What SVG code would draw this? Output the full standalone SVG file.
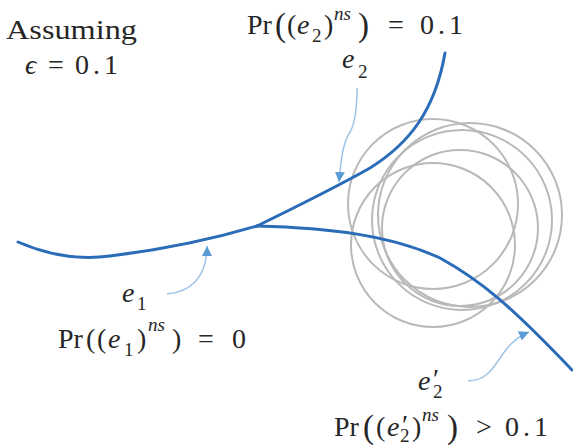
<svg xmlns="http://www.w3.org/2000/svg" width="573" height="445" viewBox="0 0 573 445">
<defs>
<style>
.t{font-family:"Liberation Serif","DejaVu Serif",serif;font-size:28px;fill:#262626}
.i{font-style:italic}
.s{font-size:19px}
.b{font-size:33px}
.d{letter-spacing:4px}
.curve{fill:none;stroke:#2a6cb8;stroke-width:3;stroke-linecap:round}
.circ{fill:none;stroke:#b9b9b9;stroke-width:2}
.ptr{fill:none;stroke:#9fc4e8;stroke-width:1.5}
</style>
<marker id="ah" markerUnits="userSpaceOnUse" markerWidth="12" markerHeight="12" refX="10" refY="5" orient="auto">
<path d="M0,0 L10,5 L0,10 Z" fill="#5b9bd5"/>
</marker>
</defs>
<rect width="573" height="445" fill="#ffffff"/>
<g id="circles">
<circle class="circ" cx="433" cy="204" r="85"/>
<circle class="circ" cx="462" cy="220" r="90"/>
<circle class="circ" cx="470" cy="215" r="92"/>
<circle class="circ" cx="460" cy="228" r="78"/>
<circle class="circ" cx="433" cy="245" r="82"/>
</g>
<g id="connectors">
<path id="edge-e1" class="curve" d="M18,242 C50,256 80,260 110,256 C160,250 210,240 257,226"/>
<path id="edge-e2" class="curve" d="M257,226 C300,205 340,185 370,168 C410,143 435,110 445,53"/>
<path id="edge-e2p" class="curve" d="M257,226 C330,228 390,235 440,258 C480,280 510,305 572,370"/>
<path id="ptr-e2" class="ptr" marker-end="url(#ah)" d="M357,88 C357,105 356,122 350,132 C343,142 341,160 339,182"/>
<path id="ptr-e1" class="ptr" marker-end="url(#ah)" d="M167,294 C190,292 207,278 207,246"/>
<path id="ptr-e2p" class="ptr" marker-end="url(#ah)" d="M468,381 C500,380 495,346 529,332"/>
</g>
<g id="assumption">
<text class="t" x="6" y="39" textLength="131" lengthAdjust="spacingAndGlyphs">Assuming</text>
<text class="t" y="74"><tspan class="i" x="25">ϵ</tspan><tspan x="48">=</tspan><tspan class="d" x="75">0.1</tspan></text>
</g>
<g id="label-e2">
<text class="t" y="34"><tspan x="247">Pr</tspan><tspan class="b" x="275" dy="2">(</tspan><tspan x="287" dy="-2">(</tspan><tspan class="i" x="297">e</tspan><tspan class="s" x="312" dy="8">2</tspan><tspan x="324" dy="-8">)</tspan><tspan class="s i" x="334" dy="-14">ns</tspan><tspan class="b" x="358" dy="16">)</tspan><tspan x="388" dy="-2">=</tspan><tspan class="d" x="420">0.1</tspan></text>
<text class="t" y="68"><tspan class="i" x="342">e</tspan><tspan class="s" x="358" dy="10">2</tspan></text>
</g>
<g id="label-e1">
<text class="t" y="348"><tspan x="58">Pr</tspan><tspan x="86">(</tspan><tspan x="97">(</tspan><tspan class="i" x="108">e</tspan><tspan class="s" x="124" dy="8">1</tspan><tspan x="137" dy="-8">)</tspan><tspan class="s i" x="148" dy="-17">ns</tspan><tspan x="172" dy="17">)</tspan><tspan x="198">=</tspan><tspan x="232">0</tspan></text>
<text class="t" y="302"><tspan class="i" x="122">e</tspan><tspan class="s" x="137" dy="8">1</tspan></text>
</g>
<g id="label-e2p">
<text class="t" y="390"><tspan class="i" x="418">e</tspan><tspan x="433" dy="-2">′</tspan><tspan class="s" x="433" dy="10">2</tspan></text>
<text class="t" y="436"><tspan x="334">Pr</tspan><tspan class="b" x="363" dy="2">(</tspan><tspan x="376" dy="-2">(</tspan><tspan class="i" x="387">e</tspan><tspan x="402" dy="-2">′</tspan><tspan class="s" x="400" dy="8">2</tspan><tspan x="412" dy="-6">)</tspan><tspan class="s i" x="422" dy="-15">ns</tspan><tspan class="b" x="447" dy="17">)</tspan><tspan x="476" dy="-2">&gt;</tspan><tspan class="d" x="505">0.1</tspan></text>
</g>
</svg>
